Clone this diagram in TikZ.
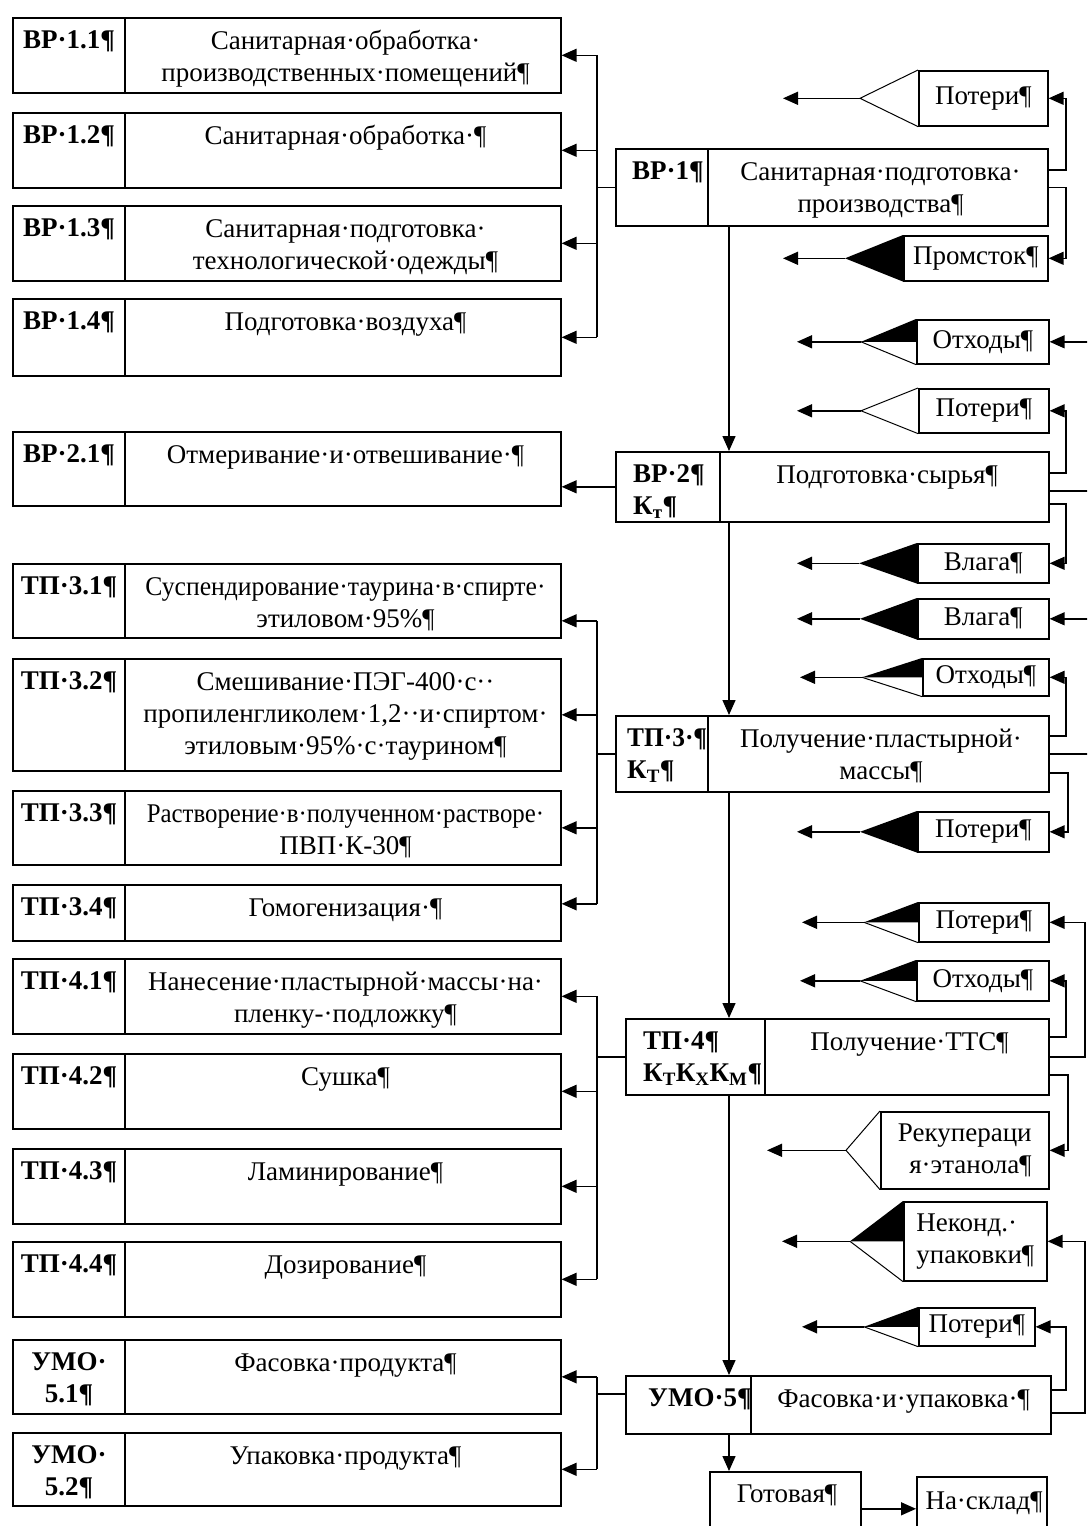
\documentclass[tikz,border=0pt]{standalone}
\usepackage{fontspec}
\usepackage{graphicx}
\setmainfont{Liberation Serif}
\usetikzlibrary{arrows.meta,calc}
\tikzset{
  bx/.style={draw, line width=1.6pt, rectangle, inner sep=0pt, anchor=north west},
  tx/.style={inner sep=0pt, align=center, font=\fontsize{27}{32}\selectfont},
  cd/.style={inner sep=0pt, align=center, font=\fontsize{27}{32}\selectfont\bfseries},
  ln/.style={line width=1.4pt},
  ar/.style={line width=1.4pt, -{Triangle[length=15pt,width=13pt]}},
  tri/.style={line width=1pt},
  obtext/.style={},
}
% two-column box: name, x1, y1, x2, y2, xdiv, description
\newcommand\twobox[7]{%
  \node[bx, minimum width={(#4-#2)*1pt}, minimum height={(#5-#3)*1pt}] (#1) at (#2,#3) {};
  \draw[line width=1.6pt] ($(#1.north west)+(#6-#2,0)$) -- ($(#1.south west)+(#6-#2,0)$);
  \node[tx, anchor=north] (#1d) at ({(#6+#4)/2+3},#3+10) {\strut#7};
}
% left box: name, y1, y2, code, description
\newcommand\lbox[5]{%
  \twobox{#1}{12}{#2}{560}{#3}{125}{#5}
  \node[cd, anchor=north] (#1c) at (69,#2+9) {\strut#4};
}
\newcommand\triW[1]{\draw[tri] (#1.north west) -- (#1a) -- (#1.south west);}
\newcommand\triB[1]{\fill (#1.north west) -- (#1a) -- (#1.south west) -- cycle;}
\newcommand\triH[1]{\fill (#1.north west) -- (#1a) -- (#1.west) -- cycle; \draw[tri] (#1a) -- (#1.south west);}
% output box: name, x1, y1, x2, y2, apex distance, tip x, triangle type, text
\newcommand\obox[9]{%
  \node[bx, tx, obtext, minimum width={(#4-#2)*1pt}, minimum height={(#5-#3)*1pt}] (#1) at (#2,#3) {#9};
  \coordinate (#1a) at ($(#1.west)+(-#6,0)$);
  \coordinate (#1e) at (#7,0 |- #1.west);
  #8{#1}%
  \draw[ar] (#1a) -- (#1e);
}
\begin{document}
\begin{tikzpicture}[x=1pt, y=-1pt]
\useasboundingbox (0,0) rectangle (1087,1526);
\clip (0,0) rectangle (1087,1526);
\fill[white] (0,0) rectangle (1087,1526);

% ---------- left column ----------
\lbox{a11}{17}{92}{ВР·1.1¶}{Санитарная·обработка·\\производственных·помещений¶}
\lbox{a12}{112}{187}{ВР·1.2¶}{Санитарная·обработка·¶}
\lbox{a13}{205}{280}{ВР·1.3¶}{Санитарная·подготовка·\\технологической·одежды¶}
\lbox{a14}{298}{375}{ВР·1.4¶}{Подготовка·воздуха¶}
\lbox{a21}{431}{505}{ВР·2.1¶}{Отмеривание·и·отвешивание·¶}
\lbox{b31}{563}{637}{ТП·3.1¶}{\scalebox{0.95}[1]{Суспендирование·таурина·в·спирте·}\\этиловом·95\%¶}
\lbox{b32}{658}{770}{ТП·3.2¶}{Смешивание·ПЭГ-400·с··\\пропиленгликолем·1,2··и·спиртом·\\этиловым·95\%·с·таурином¶}
\lbox{b33}{790}{864}{ТП·3.3¶}{\scalebox{0.92}[1]{Растворение·в·полученном·растворе·}\\ПВП·К-30¶}
\lbox{b34}{884}{940}{ТП·3.4¶}{Гомогенизация·¶}
\lbox{c41}{958}{1033}{ТП·4.1¶}{Нанесение·пластырной·массы·на·\\пленку-·подложку¶}
\lbox{c42}{1053}{1128}{ТП·4.2¶}{Сушка¶}
\lbox{c43}{1148}{1223}{ТП·4.3¶}{Ламинирование¶}
\lbox{c44}{1241}{1316}{ТП·4.4¶}{Дозирование¶}
\lbox{d51}{1339}{1413}{УМО·\\5.1¶}{Фасовка·продукта¶}
\lbox{d52}{1432}{1505}{УМО·\\5.2¶}{Упаковка·продукта¶}

% ---------- central column ----------
\twobox{p1}{615}{148}{1047}{225}{708}{Санитарная·подготовка·\\производства¶}
\node[cd, anchor=north west, align=left] (p1c) at (632,157) {\strut ВР·1¶};
\twobox{p2}{615}{451}{1048}{521}{720}{Подготовка·сырья¶}
\node[cd, anchor=north west, align=left] (p2c) at (633,460) {\strut ВР·2¶\\К\textsubscript{т}¶};
\twobox{p3}{615}{715}{1048}{791}{708}{Получение·пластырной·\\массы¶}
\node[cd, anchor=north west, align=left] (p3c) at (627,724) {\strut\scalebox{0.94}[1]{ТП·3·¶}\\К\textsubscript{Т}¶};
\twobox{p4}{625}{1018}{1048}{1094}{765}{Получение·ТТС¶}
\node[cd, anchor=north west, align=left] (p4c) at (643,1027) {\strut ТП·4¶\\К\textsubscript{Т}К\textsubscript{Х}К\textsubscript{М}¶};
\twobox{p5}{625}{1375}{1050}{1433}{751}{Фасовка·и·упаковка·¶}
\node[cd, anchor=north west, align=left] (p5c) at (648,1384) {\strut УМО·5¶};

\node[bx, minimum width=151pt, minimum height=74pt] (g) at (709,1471) {};
\node[tx, anchor=north] (gt) at (787,1480) {\strut Готовая¶};
\node[bx, minimum width=130pt, minimum height=64pt] (s) at (916,1476) {};
\node[tx, anchor=north] (st) at (984,1487) {\strut На·склад¶};

% ---------- output boxes ----------
\obox{o1}{918}{70}{1047}{125}{58}{783}{\triW}{Потери¶}
\obox{o2}{903}{235}{1047}{280}{58}{783}{\triB}{Промсток¶}
\obox{o3}{916}{319}{1048}{363}{55}{797}{\triH}{Отходы¶}
\obox{o4}{918}{388}{1048}{432}{57}{797}{\triW}{Потери¶}
\obox{o5}{917}{543}{1048}{582}{58}{797}{\triB}{Влага¶}
\obox{o6}{917}{598}{1048}{638}{57}{797}{\triB}{Влага¶}
\obox{o7}{922}{658}{1048}{695}{60}{800}{\triH}{Отходы¶}
\obox{o8}{917}{811}{1048}{851}{57}{797}{\triB}{Потери¶}
\obox{o9}{918}{902}{1048}{941}{54}{802}{\triH}{Потери¶}
\obox{o10}{916}{960}{1048}{1000}{56}{800}{\triH}{Отходы¶}
\begin{scope}[obtext/.style={align=right}]
\obox{o11}{880}{1111}{1048}{1188}{34}{767}{\triW}{Рекупераци\\я·этанола¶}
\end{scope}
\begin{scope}[obtext/.style={align=left}]
\obox{o12}{903}{1201}{1046}{1280}{53}{782}{\triH}{Неконд.·\\упаковки¶}
\end{scope}
\obox{o13}{918}{1307}{1034}{1345}{54}{802}{\triH}{Потери¶}

% ---------- central flow ----------
\coordinate (C) at (729,0);
\draw[ar] (C |- p1.south) -- (C |- p2.north);
\draw[ar] (C |- p2.south) -- (C |- p3.north);
\draw[ar] (C |- p3.south) -- (C |- p4.north);
\draw[ar] (C |- p4.south) -- (C |- p5.north);
\draw[ar] (C |- p5.south) -- (C |- g.north);
\draw[ar] (g.east) -- (g.east -| s.west);

% ---------- left buses ----------
\coordinate (L) at (597,0);
\draw[ln] (p1.west) -- (L |- p1.west);
\draw[ln] (L |- a11.east) -- (L |- a14.east);
\foreach \n in {a11,a12,a13,a14} \draw[ar] (L |- \n.east) -- (\n.east);

\draw[ar] (p2.west) -- (p2.west -| a21.east);

\coordinate (b31in) at ([yshift=-20pt]b31.east);
\coordinate (b32in) at (b32.east);
\coordinate (b33in) at (b33.east);
\coordinate (b34in) at ([yshift=9pt]b34.east);
\draw[ln] (p3.west) -- (L |- p3.west);
\draw[ln] (L |- b31in) -- (L |- b34in);
\foreach \n in {b31in,b32in,b33in,b34in} \draw[ar] (L |- \n) -- (\n);

\draw[ln] (p4.west) -- (L |- p4.west);
\draw[ln] (L |- c41.east) -- (L |- c44.east);
\foreach \n in {c41,c42,c43,c44} \draw[ar] (L |- \n.east) -- (\n.east);

\coordinate (p5w) at ([yshift=11pt]p5.west);
\draw[ln] (p5w) -- (L |- p5w);
\draw[ln] (L |- d51.east) -- (L |- d52.east);
\foreach \n in {d51,d52} \draw[ar] (L |- \n.east) -- (\n.east);

% ---------- right connectors ----------
\coordinate (R1) at (1066,0);
\coordinate (R3) at (1068,0);
\coordinate (R4) at (1085,0);
\coordinate (E) at (1088,0);
\coordinate (p1r1) at ([yshift=17.5pt]p1.east);
\draw[ar] (p1r1) -| (R1 |- o1.east) -- (o1.east);
\draw[ar] (p1.east) -| (R1 |- o2.east) -- (o2.east);
\draw[ar] (E |- o3.east) -- (o3.east);
\coordinate (p2r1) at ([yshift=14pt]p2.east);
\coordinate (p2r2) at ([yshift=-4pt]p2.east);
\coordinate (p2r3) at ([yshift=-17pt]p2.east);
\draw[ar] (p2r1) -| (R1 |- o4.east) -- (o4.east);
\draw[ln] (p2r2) -- (p2r2 -| E);
\draw[ar] (p2r3) -| (R1 |- o5.east) -- (o5.east);
\draw[ar] (E |- o6.east) -- (o6.east);
\coordinate (p3r1) at ([yshift=18pt]p3.east);
\coordinate (p3r3) at ([yshift=-19pt]p3.east);
\draw[ar] (p3r1) -| (R1 |- o7.east) -- (o7.east);
\draw[ln] (p3.east) -- (p3.east -| E);
\draw[ar] (p3r3) -| (R3 |- o8.east) -- (o8.east);
\coordinate (p4r1) at ([yshift=20pt]p4.east);
\coordinate (p4r3) at ([yshift=-18pt]p4.east);
\draw[ar] (p4r1) -| (R1 |- o10.east) -- (o10.east);
\draw[ar] (p4.east) -| (R4 |- o9.east) -- (o9.east);
\draw[ar] (p4r3) -| (R3 |- o11.east) -- (o11.east);
\coordinate (p5r1) at ([yshift=15pt]p5.east);
\coordinate (p5r2) at ([yshift=-8pt]p5.east);
\draw[ar] (p5r1) -| (R1 |- o13.east) -- (o13.east);
\draw[ar] (p5r2) -| (R4 |- o12.east) -- (o12.east);
\end{tikzpicture}
\end{document}
